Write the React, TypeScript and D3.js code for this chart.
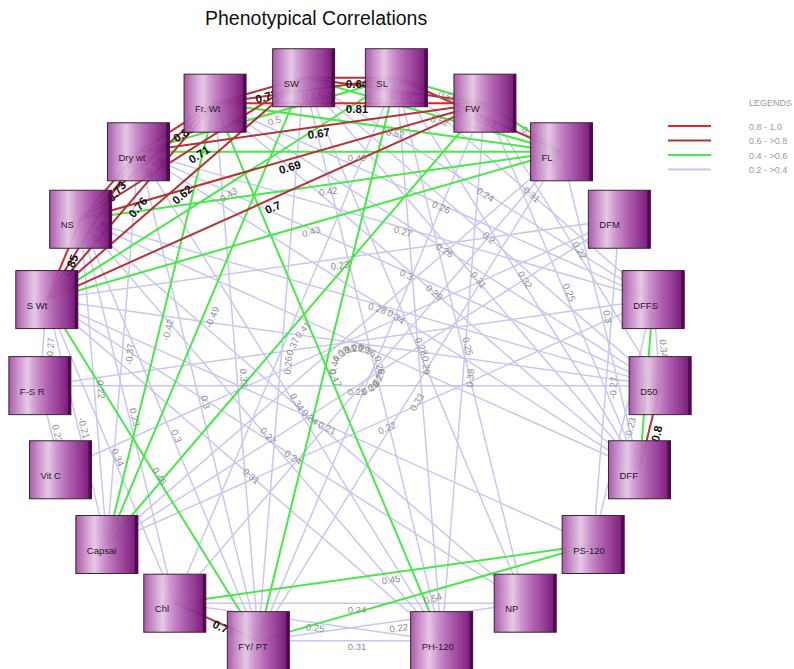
import React, { useEffect, useRef } from 'react';
import * as d3 from 'd3';

// traits in clockwise order, starting from the bottom-left; slot 0 (bottom) stays empty
const traits = [
  'FY/ PT', 'Chl', 'Capsai', 'Vit C', 'F-S R', 'S Wt', 'NS', 'Dry wt', 'Fr. Wt', 'SW',
  'SL', 'FW', 'FL', 'DFM', 'DFFS', 'D50', 'DFF', 'PS-120', 'NP', 'PH-120'
];

// r >= 0.6
const strongLinks = [
  ['S Wt', 'NS', 0.85], ['Fr. Wt', 'FW', 0.81], ['Dry wt', 'Fr. Wt', 0.83],
  ['S Wt', 'Fr. Wt', 0.76], ['S Wt', 'SW', 0.62], ['S Wt', 'FW', 0.7], ['S Wt', 'Dry wt', 0.78],
  ['NS', 'Dry wt', 0.73], ['NS', 'SW', 0.71], ['NS', 'FW', 0.69], ['NS', 'Fr. Wt', 0.74],
  ['Dry wt', 'FW', 0.67], ['Fr. Wt', 'SW', 0.72], ['Fr. Wt', 'SL', 0.65], ['SW', 'SL', 0.64],
  ['SW', 'FW', 0.68], ['SL', 'FL', 0.62], ['D50', 'DFF', 0.8], ['Chl', 'FY/ PT', 0.73]
];

// 0.4 - 0.6
const mediumLinks = [
  ['SL', 'FW', 0.55], ['SW', 'FL', 0.52], ['Fr. Wt', 'FL', 0.52], ['Dry wt', 'SL', 0.5],
  ['Dry wt', 'FL', 0.49], ['NS', 'FL', 0.42], ['S Wt', 'SL', 0.43], ['S Wt', 'FL', 0.43],
  ['FW', 'FL', 0.58], ['S Wt', 'FY/ PT', 0.46], ['Capsai', 'Fr. Wt', -0.42], ['Capsai', 'SW', -0.49],
  ['Capsai', 'FW', 0.41], ['Fr. Wt', 'PH-120', 0.47], ['SL', 'FY/ PT', 0.44], ['Chl', 'PS-120', 0.45],
  ['FY/ PT', 'PS-120', 0.54], ['DFFS', 'DFF', 0.45]
];

// 0.2 - 0.4
const weakLinks = [
  ['FY/ PT', 'PH-120', 0.31], ['Chl', 'PH-120', 0.25], ['Chl', 'NP', 0.24], ['FY/ PT', 'NP', 0.22],
  ['SW', 'DFFS', 0.24], ['SL', 'DFFS', 0.31], ['Fr. Wt', 'DFFS', 0.26], ['Dry wt', 'DFFS', 0.27],
  ['Fr. Wt', 'D50', 0.26], ['SW', 'D50', 0.2], ['SW', 'DFF', 0.31], ['SL', 'DFF', 0.32],
  ['FW', 'DFF', 0.25], ['FW', 'D50', 0.22], ['FL', 'DFF', 0.3], ['DFM', 'PS-120', -0.27],
  ['DFFS', 'PS-120', -0.23], ['DFFS', 'D50', 0.34], ['S Wt', 'F-S R', -0.27], ['NS', 'Capsai', -0.22],
  ['F-S R', 'Vit C', 0.23], ['S Wt', 'Capsai', -0.21], ['S Wt', 'Chl', 0.34], ['Dry wt', 'Capsai', -0.37],
  ['Dry wt', 'FY/ PT', 0.3], ['NS', 'FY/ PT', 0.3], ['Fr. Wt', 'FY/ PT', 0.33], ['NS', 'PH-120', 0.27],
  ['S Wt', 'NP', 0.24], ['NS', 'NP', 0.24], ['Dry wt', 'PH-120', 0.34], ['S Wt', 'PH-120', 0.31],
  ['S Wt', 'PS-120', 0.21], ['F-S R', 'D50', 0.25], ['SW', 'FY/ PT', 0.26], ['SL', 'Chl', 0.37],
  ['Dry wt', 'D50', 0.3], ['Fr. Wt', 'DFF', 0.29], ['NS', 'D50', 0.28], ['Dry wt', 'DFF', 0.34],
  ['SL', 'NP', 0.25], ['FW', 'PH-120', 0.38], ['SL', 'PH-120', 0.29], ['SW', 'NP', 0.28],
  ['SW', 'PH-120', 0.26], ['Capsai', 'DFM', 0.25], ['Vit C', 'DFM', 0.31], ['F-S R', 'DFFS', 0.29],
  ['NS', 'DFF', 0.36], ['S Wt', 'D50', 0.29], ['Capsai', 'FL', 0.39], ['FY/ PT', 'FW', 0.28],
  ['FY/ PT', 'FL', 0.33], ['Chl', 'NS', 0.23], ['Capsai', 'DFFS', 0.22], ['S Wt', 'DFM', 0.23],
  ['Chl', 'FL', 0.27]
];

const legendLabels = ['0.8 - 1.0', '0.6 - >0.8', '0.4 - >0.6', '0.2 - >0.4'];
const legendColors = ['#e32424', '#b23434', '#48e848', '#c8c8ef'];

const W = 794;
const H = 669;

export default function App() {
  const ref = useRef(null);

  useEffect(() => {
    const svg = d3.select(ref.current);
    svg.selectAll('*').remove();

    const cx = 350, cy = 364, rx = 311, ry = 289.5;
    const boxW = 62, boxH = 58;
    const slot = d3.scaleLinear().domain([0, traits.length + 1]).range([Math.PI, 3 * Math.PI]);
    const pos = {};
    traits.forEach((t, i) => {
      const a = slot(i + 1);
      pos[t] = { x: cx + rx * Math.sin(a), y: cy - ry * Math.cos(a) };
    });

    const color = d3.scaleThreshold().domain([0.4, 0.6, 0.8001]).range(legendColors.slice().reverse());
    const width = d3.scaleThreshold().domain([0.4]).range([1.5, 2]);

    const defs = svg.append('defs');
    const grad = defs.append('linearGradient').attr('id', 'nodeFill').attr('x1', 0).attr('x2', 1).attr('y1', 0).attr('y2', 0);
    [[0, '#a44fa4'], [0.14, '#c58ac5'], [0.3, '#e4c4e4'], [0.44, '#c98fc9'], [0.62, '#ac5aac'],
      [0.82, '#8e2e8e'], [0.94, '#761476'], [1, '#620462']].forEach(([o, c]) =>
      grad.append('stop').attr('offset', o).attr('stop-color', c));

    svg.append('text')
      .attr('x', 205).attr('y', 25)
      .attr('font-family', 'Liberation Sans, Arial, sans-serif')
      .attr('font-size', 19.5)
      .attr('fill', '#111')
      .text('Phenotypical Correlations');

    const links = [...weakLinks, ...mediumLinks, ...strongLinks].map(([s, t, r]) => ({ s, t, r, a: Math.abs(r) }));

    const edges = svg.append('g');
    edges.selectAll('line').data(links).enter().append('line')
      .attr('x1', d => pos[d.s].x).attr('y1', d => pos[d.s].y)
      .attr('x2', d => pos[d.t].x).attr('y2', d => pos[d.t].y)
      .attr('stroke', d => color(d.a))
      .attr('stroke-width', d => width(d.a));

    const labels = svg.append('g').attr('font-family', 'Liberation Sans, Arial, sans-serif');
    labels.selectAll('text').data(links).enter().append('text')
      .attr('transform', d => {
        const p = pos[d.s], q = pos[d.t];
        let ang = Math.atan2(q.y - p.y, q.x - p.x) * 180 / Math.PI;
        if (ang > 90) ang -= 180;
        if (ang <= -90) ang += 180;
        const mx = (p.x + q.x) / 2 + 7, my = (p.y + q.y) / 2 + 6;
        return 'translate(' + mx + ',' + my + ') rotate(' + ang + ')';
      })
      .attr('text-anchor', 'middle')
      .attr('dy', '0.35em')
      .attr('font-size', d => d.a >= 0.6 ? 11.5 : 9.5)
      .attr('font-weight', d => d.a >= 0.6 ? 'bold' : 'normal')
      .attr('fill', d => d.a >= 0.6 ? '#111' : '#8e8e8e')
      .text(d => String(d.r));

    const node = svg.append('g').selectAll('g').data(traits).enter().append('g')
      .attr('transform', d => 'translate(' + (pos[d].x - boxW / 2) + ',' + (pos[d].y - boxH / 2) + ')');
    node.append('rect')
      .attr('width', boxW).attr('height', boxH)
      .attr('fill', 'url(#nodeFill)')
      .attr('fill-opacity', 0.94)
      .attr('stroke', '#3a2438').attr('stroke-width', 1);
    node.append('rect')
      .attr('x', boxW - 3).attr('width', 3).attr('height', boxH)
      .attr('fill', '#4e0a4e');
    node.append('text')
      .attr('x', 11).attr('y', 38)
      .attr('font-family', 'Liberation Sans, Arial, sans-serif')
      .attr('font-size', 9.5)
      .attr('fill', '#2a1628')
      .text(d => d);

    const legend = svg.append('g').attr('font-family', 'Liberation Sans, Arial, sans-serif');
    legend.append('text').attr('x', 749).attr('y', 106).attr('font-size', 9).attr('fill', '#9a9a9a').text('LEGENDS');
    const item = legend.selectAll('.item').data(legendLabels).enter().append('g')
      .attr('transform', (d, i) => 'translate(0,' + (126 + i * 14.5) + ')');
    item.append('line').attr('x1', 668).attr('x2', 711)
      .attr('stroke', (d, i) => legendColors[i]).attr('stroke-width', 2);
    item.append('text').attr('x', 749).attr('y', 3.5).attr('font-size', 9).attr('fill', '#9a9a9a').text(d => d);
  }, []);

  return (
    <svg ref={ref} width={W} height={H}
      style={{ position: 'absolute', left: 0, top: 0, background: '#fff' }} />
  );
}
